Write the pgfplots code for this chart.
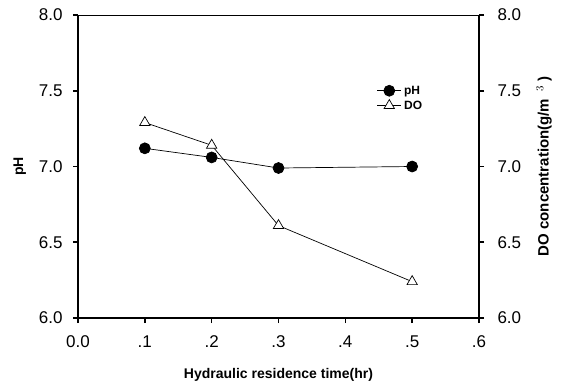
\documentclass[border=0pt]{standalone}
\usepackage{fontspec}
\setmainfont{Liberation Sans}
\usepackage{pgfplots}
\pgfplotsset{compat=1.18}
\begin{document}
\begin{tikzpicture}
\pgfplotsset{
  every axis/.append style={
    scale only axis, width=401pt, height=303pt,
    xmin=0, xmax=0.6, ymin=6, ymax=8,
    /pgf/number format/assume math mode=true,
    tick label style={font=\fontsize{17}{19}\selectfont},
    axis line style={line width=2.2pt},
    major tick length=5pt,
    tick style={line width=1.6pt, black},
  }
}
\begin{axis}[
  name=ax,
  axis y line*=left,
  axis x line*=bottom,
  tick align=outside,
  xtick={0,0.1,0.2,0.3,0.4,0.5,0.6},
  xticklabels={0.0,.1,.2,.3,.4,.5,.6},
  ytick={6,6.5,7,7.5,8},
  yticklabels={6.0,6.5,7.0,7.5,8.0},
  xlabel={Hydraulic residence time(hr)},
  ylabel={pH},
  xlabel style={at={(axis description cs:0.5,-0.188)}, anchor=center, font=\fontsize{14}{16}\selectfont\bfseries},
  ylabel style={at={(axis description cs:-0.145,0.5)}, anchor=center, font=\fontsize{14}{16}\selectfont\bfseries},
  xticklabel style={anchor=north, yshift=-9pt},
  yticklabel style={anchor=east, xshift=-7pt},
  legend image code/.code={\draw[mark repeat=2,mark phase=2,#1] plot coordinates {(0pt,0pt) (12pt,0pt) (24pt,0pt)};},
  legend style={draw=none, fill=none, at={(0.745,0.775)}, anchor=north west,
    font=\fontsize{12}{14}\selectfont\bfseries, row sep=0pt, inner sep=0pt,
    nodes={inner sep=2.5pt}},
  legend cell align=left,
]
\draw[line width=2.2pt] (axis cs:0,8) -- (axis cs:0.6,8);
\addplot[black, line width=0.7pt, mark=*, mark size=5.5pt, mark options={fill=black}] coordinates {
  (0.1,7.12) (0.2,7.06) (0.3,6.99) (0.5,7.00)
};
\addlegendentry{pH}
\addlegendimage{black, line width=0.7pt, mark=triangle*, mark size=6pt, mark options={fill=white}}
\addlegendentry{DO}
\end{axis}
\begin{axis}[
  axis y line*=right,
  axis x line=none,
  tick align=outside,
  ytick={6,6.5,7,7.5,8},
  yticklabels={6.0,6.5,7.0,7.5,8.0},
  ylabel={DO concentration(g/m\hspace{7pt}$^{3}$\hspace{4pt})},
  ylabel style={at={(axis description cs:1.162,0.5)}, anchor=center, font=\fontsize{15}{17}\selectfont\bfseries},
  yticklabel style={anchor=west, xshift=10pt},
]
\addplot[black, line width=0.7pt, mark=triangle*, mark size=6pt, mark options={fill=white}] coordinates {
  (0.1,7.29) (0.2,7.14) (0.3,6.61) (0.5,6.24)
};
\end{axis}
\path ([xshift=-78pt,yshift=-71pt]ax.south west) ([xshift=86pt,yshift=15pt]ax.north east);
\end{tikzpicture}
\end{document}
